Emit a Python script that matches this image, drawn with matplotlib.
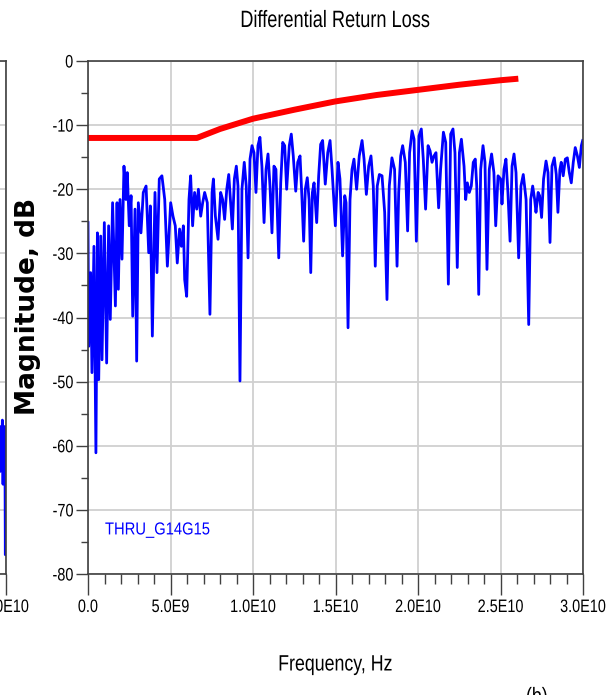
import matplotlib
matplotlib.use("Agg")
import matplotlib.pyplot as plt
from matplotlib.patheffects import AbstractPathEffect
from matplotlib.transforms import Affine2D
import numpy as np

# Blue trace (THRU_G14G15), frequency in GHz and magnitude in dB
freq_ghz = [
    0.00, 0.04, 0.16, 0.24, 0.36, 0.48, 0.57, 0.65, 0.77, 0.85, 0.99, 1.13, 1.25, 1.35, 1.49, 1.66,
    1.76, 1.84, 1.94, 2.06, 2.18, 2.30, 2.38, 2.50, 2.61, 2.71, 2.85, 2.95, 3.05, 3.21, 3.35, 3.52,
    3.68, 3.78, 3.90, 4.06, 4.18, 4.32, 4.48, 4.65, 4.81, 5.01, 5.15, 5.29, 5.41, 5.55, 5.66, 5.78,
    5.86, 5.98, 6.12, 6.22, 6.34, 6.46, 6.59, 6.69, 6.83, 6.95, 7.07, 7.23, 7.39, 7.52, 7.60, 7.72,
    7.88, 8.04, 8.16, 8.28, 8.41, 8.53, 8.63, 8.75, 8.87, 8.99, 9.09, 9.21, 9.33, 9.47, 9.59, 9.70,
    9.82, 9.94, 10.06, 10.18, 10.30, 10.42, 10.54, 10.67, 10.79, 10.91, 11.03, 11.15, 11.27, 11.39,
    11.56, 11.68, 11.80, 11.92, 12.04, 12.20, 12.32, 12.44, 12.59, 12.71, 12.85, 12.97, 13.07, 13.17,
    13.29, 13.40, 13.50, 13.60, 13.70, 13.86, 13.98, 14.10, 14.22, 14.38, 14.53, 14.67, 14.79, 14.99,
    15.15, 15.27, 15.43, 15.56, 15.64, 15.76, 15.88, 16.00, 16.12, 16.28, 16.44, 16.61, 16.73, 16.87,
    17.01, 17.15, 17.29, 17.41, 17.53, 17.66, 17.82, 17.98, 18.12, 18.26, 18.42, 18.58, 18.73, 18.83,
    18.95, 19.07, 19.23, 19.37, 19.49, 19.64, 19.76, 19.90, 20.06, 20.20, 20.32, 20.46, 20.61, 20.73,
    20.85, 20.97, 21.09, 21.25, 21.37, 21.54, 21.68, 21.84, 21.98, 22.12, 22.24, 22.38, 22.51, 22.63,
    22.79, 22.89, 22.99, 23.11, 23.23, 23.35, 23.47, 23.56, 23.68, 23.80, 23.94, 24.06, 24.18, 24.32,
    24.46, 24.60, 24.71, 24.85, 25.01, 25.09, 25.21, 25.33, 25.45, 25.58, 25.70, 25.82, 25.94, 26.10,
    26.24, 26.38, 26.55, 26.71, 26.83, 26.95, 27.07, 27.15, 27.28, 27.37, 27.49, 27.61, 27.76, 27.88,
    28.00, 28.12, 28.26, 28.38, 28.48, 28.60, 28.68, 28.80, 28.93, 29.05, 29.17, 29.29, 29.41, 29.53,
    29.66, 29.78, 29.90, 29.98,
]
mag_db = [
    -25.2, -44.5, -33.0, -48.6, -28.9, -61.1, -26.8, -49.7, -27.3, -46.6, -25.2, -47.1, -25.7, -40.3, -22.1, -38.2,
    -22.1, -35.6, -21.6, -30.9, -16.4, -21.6, -17.4, -25.7, -21.0, -39.8, -23.1, -46.8, -22.1, -26.8, -20.5, -19.5,
    -29.9, -22.6, -42.9, -20.5, -33.0, -18.4, -17.9, -21.6, -32.0, -22.1, -24.2, -25.7, -31.5, -26.2, -28.9, -25.7,
    -34.1, -36.7, -21.6, -17.9, -25.7, -20.5, -23.1, -20.0, -24.2, -22.1, -20.5, -22.1, -39.5, -20.5, -18.4, -24.2,
    -27.8, -20.5, -21.6, -24.7, -20.0, -17.7, -21.6, -26.2, -18.4, -16.4, -19.5, -49.9, -20.0, -15.8, -19.5, -30.7,
    -15.3, -13.2, -14.3, -20.5, -13.2, -11.9, -16.4, -25.2, -16.9, -14.5, -19.5, -26.8, -16.4, -16.9,
    -30.7, -19.0, -12.7, -13.2, -20.0, -13.2, -11.4, -14.8, -20.3, -15.8, -14.8, -21.6, -28.1, -20.0,
    -18.2, -21.6, -33.0, -20.5, -19.0, -25.2, -17.9, -13.0, -12.4, -19.2, -14.3, -12.4, -16.9, -25.7,
    -15.8, -18.4, -30.4, -21.0, -22.1, -41.6, -21.6, -16.9, -15.3, -20.0, -14.8, -12.4, -15.3, -20.8,
    -16.4, -14.8, -19.5, -32.0, -19.5, -17.7, -17.9, -23.6, -37.2, -19.5, -15.1, -16.9, -32.0, -20.5,
    -14.8, -13.2, -15.8, -26.5, -14.3, -10.9, -12.2, -28.1, -11.7, -10.6, -15.3, -23.1, -13.2, -14.0,
    -15.8, -14.8, -14.3, -22.9, -16.9, -11.1, -12.7, -34.8, -11.4, -10.6, -14.3, -32.2, -14.3, -12.2,
    -16.4, -21.6, -19.0, -20.5, -19.5, -15.8, -15.3, -19.5, -36.4, -16.9, -13.2, -15.8, -32.5, -16.9,
    -14.5, -17.4, -25.7, -17.9, -18.4, -22.3, -16.9, -15.3, -20.5, -28.1, -16.4, -14.5, -17.4, -30.7,
    -19.5, -17.7, -21.6, -41.1, -21.6, -19.5, -21.6, -23.6, -20.5, -21.0, -24.4, -18.4, -15.6, -17.4,
    -28.3, -16.4, -15.1, -17.7, -23.6, -16.9, -15.8, -17.9, -15.3, -15.1, -17.4, -19.0, -15.8, -13.5,
    -14.8, -16.6, -13.2, -12.4,
]

# Red limit line
mask_ghz = [0.0, 6.6, 8.0, 10.0, 12.5, 15.0, 17.5, 20.0, 22.5, 25.0, 25.9]
mask_db = [-12.0, -12.0, -10.6, -9.0, -7.6, -6.3, -5.3, -4.5, -3.7, -3.0, -2.8]

# tail of the neighbouring plot that is cut off on the left
left_ghz = [29.60, 29.65, 29.70, 29.74, 29.78, 29.82, 29.86, 29.90, 29.93, 29.96, 29.98, 30.00]
left_db = [-58, -64, -57, -62, -56, -66, -58, -62, -57, -77, -60, -64]

x_ticks = [0, 5e9, 1e10, 1.5e10, 2e10, 2.5e10, 3e10]
x_ticklabels = ["0.0", "5.0E9", "1.0E10", "1.5E10", "2.0E10", "2.5E10", "3.0E10"]
y_ticks = [0, -10, -20, -30, -40, -50, -60, -70, -80]

FONT = "Liberation Sans"
SPINE = "#404040"


class Condense(AbstractPathEffect):
    """Squeeze text horizontally (no narrow font installed) around its anchor."""

    def __init__(self, sx=0.8, anchor="center"):
        super().__init__()
        self.sx = sx
        self.anchor = anchor

    def draw_path(self, renderer, gc, tpath, affine, rgbFace=None):
        xs = tpath.vertices[:, 0]
        if self.anchor == "left":
            cx = 0.0
        elif self.anchor == "right":
            cx = xs.max()
        else:
            cx = (xs.min() + xs.max()) / 2
        squeeze = Affine2D().translate(-cx, 0).scale(self.sx, 1).translate(cx, 0)
        renderer.draw_path(gc, tpath, squeeze + affine, rgbFace)


W, H = 614, 695
fig = plt.figure(figsize=(W / 100, H / 100), dpi=100)

# axes box in pixels: left 88, right 583, top 61, bottom 574
left, right, top, bottom = 88, 583, 61, 574
box = [left / W, 1 - bottom / H, (right - left) / W, (bottom - top) / H]


def ax_x(px):
    return (px - left) / (right - left)


def ax_y(py):
    return (bottom - py) / (bottom - top)


def style_axes(ax):
    ax.set_xlim(0, 3e10)
    ax.set_ylim(-80, 0)
    ax.set_xticks(x_ticks)
    ax.set_xticklabels(x_ticklabels, family=FONT, fontsize=13)
    ax.set_xticks(np.arange(0, 3.01e10, 1e9), minor=True)
    ax.set_yticks(y_ticks)
    ax.set_yticklabels([str(v) for v in y_ticks], family=FONT, fontsize=13)
    ax.set_yticks(np.arange(-80, 1, 5), minor=True)
    for lbl in ax.get_xticklabels():
        lbl.set_path_effects([Condense(0.8)])
    for lbl in ax.get_yticklabels():
        lbl.set_path_effects([Condense(0.8, "right")])
    ax.grid(True, which="major", color="#d0d0d0", linewidth=1.3)
    ax.set_axisbelow(True)
    ax.tick_params(axis="x", which="major", length=15, width=1, color=SPINE, pad=3)
    ax.tick_params(axis="x", which="minor", length=7.5, width=1, color=SPINE)
    ax.tick_params(axis="y", which="major", length=8.5, width=1, color=SPINE, pad=2)
    ax.tick_params(axis="y", which="minor", length=5, width=1, color=SPINE)
    for s in ax.spines.values():
        s.set_color(SPINE)
        s.set_linewidth(1.2)


# neighbouring plot, mostly outside the figure
ax_l = fig.add_axes([(6 - 495) / W, box[1], 495 / W, box[3]])
style_axes(ax_l)
ax_l.plot(np.array(left_ghz) * 1e9, left_db, color="#0000ff", linewidth=2)

ax = fig.add_axes(box)
style_axes(ax)
ax.plot(np.array(freq_ghz) * 1e9, mag_db, color="#0000ff", linewidth=2)
ax.plot(np.array(mask_ghz) * 1e9, mask_db, color="#ff0000", linewidth=4.3)

ax.text(0.5, ax_y(21), "Differential Return Loss", transform=ax.transAxes, family=FONT,
        fontsize=17, ha="center", va="center", path_effects=[Condense(0.77)])
ax.set_xlabel("Frequency, Hz", family=FONT, fontsize=16, va="center", path_effects=[Condense(0.8)])
ax.xaxis.set_label_coords(0.5, ax_y(665))
ax.set_ylabel("Magnitude, dB", family="DejaVu Sans", fontweight="bold", fontsize=19, va="center")
ax.yaxis.set_label_coords(ax_x(28), ax_y(306))

ax.text(ax_x(105), ax_y(530), "THRU_G14G15", transform=ax.transAxes, color="#0000ff",
        family=FONT, fontsize=12.5, va="center", path_effects=[Condense(0.85, "left")])

# top of a sub-figure label cut off at the bottom edge
fig.text(537 / W, 1 - 687 / H, "(b)", family=FONT, fontsize=16, ha="center", va="top",
         path_effects=[Condense(0.8)])

fig.savefig("out.png", dpi=100)
